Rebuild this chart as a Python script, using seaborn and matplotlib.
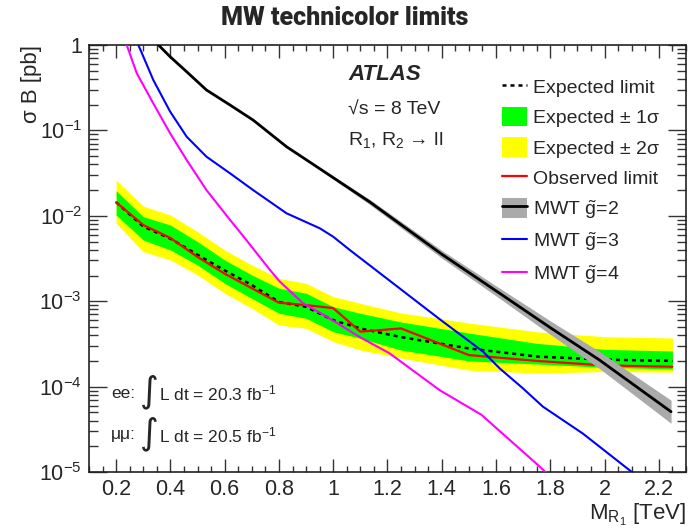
import numpy as np
import pandas as pd
import seaborn as sns
import matplotlib
matplotlib.use('Agg')
import matplotlib.pyplot as plt
from matplotlib.patches import Patch
from matplotlib.lines import Line2D
from matplotlib.ticker import LogLocator, MultipleLocator, FuncFormatter, NullFormatter

# limit curves (mass in TeV, sigma*B in pb)
mass = [0.2, 0.3, 0.4, 0.5, 0.6, 0.7, 0.8, 0.9, 1.0, 1.1, 1.25, 1.5, 1.75, 2.0, 2.25]
observed = [0.0144, 0.0078, 0.0055, 0.0033, 0.0021, 0.00142, 0.00096, 0.00090, 0.00083,
            0.00044, 0.00048, 0.000234, 0.000200, 0.000177, 0.000171]
expected = [0.0144, 0.0075, 0.0054, 0.0035, 0.0023, 0.00155, 0.00098, 0.00086, 0.00060,
            0.00048, 0.00038, 0.00028, 0.000225, 0.000207, 0.000200]
exp_2s_hi = [0.0262, 0.0130, 0.0102, 0.00651, 0.00398, 0.00265, 0.00185, 0.00162, 0.00113,
             0.000945, 0.000728, 0.000556, 0.000439, 0.000384, 0.000371]
exp_1s_hi = [0.0197, 0.00976, 0.0078, 0.00498, 0.00304, 0.00203, 0.00142, 0.00124, 0.000862,
             0.000722, 0.000571, 0.000424, 0.000321, 0.000273, 0.000261]
exp_1s_lo = [0.0102, 0.00521, 0.00398, 0.00265, 0.00162, 0.00108, 0.000722, 0.000631, 0.000439,
             0.000368, 0.000268, 0.000200, 0.000184, 0.000168, 0.000161]
exp_2s_lo = [0.00817, 0.00380, 0.00304, 0.00203, 0.00124, 0.000826, 0.000526, 0.000482, 0.000336,
             0.000268, 0.000216, 0.000156, 0.000144, 0.000150, 0.000148]

# MWT theory curves
mass_g2 = [0.34, 0.356, 0.399, 0.46, 0.533, 0.62, 0.705, 0.828, 0.951, 1.135, 1.4, 1.613,
           1.8, 1.981, 2.245]
mwt_g2 = [1.15, 1.0, 0.729, 0.486, 0.297, 0.198, 0.132, 0.0644, 0.0355, 0.0145, 0.00355,
          0.00124, 0.00049, 0.000205, 5.08e-5]
mass_g2_band = [0.951, 1.135, 1.4, 1.613, 1.8, 1.981, 2.245]
mwt_g2_hi = [0.0367, 0.01554, 0.00394, 0.001424, 0.000589, 0.000258, 6.93e-5]
mwt_g2_lo = [0.0343, 0.01353, 0.00320, 0.00108, 0.000408, 0.000163, 3.72e-5]

mass_g3 = [0.27, 0.282, 0.337, 0.399, 0.46, 0.533, 0.62, 0.705, 0.828, 0.951, 1.0, 1.061,
           1.392, 1.552, 1.613, 1.699, 1.773, 1.92, 2.092, 2.15]
mwt_g3 = [1.26, 1.0, 0.389, 0.166, 0.0843, 0.0492, 0.0314, 0.020, 0.0107, 0.00713, 0.00569,
          0.00398, 0.000617, 0.000257, 0.000164, 9.55e-5, 5.82e-5, 2.82e-5, 1.05e-5, 7.6e-6]

mass_g4 = [0.23, 0.239, 0.276, 0.337, 0.399, 0.46, 0.533, 0.62, 0.669, 0.767, 0.803, 0.889,
           0.975, 1.098, 1.208, 1.392, 1.546, 1.638, 1.748, 1.8]
mwt_g4 = [1.2, 1.0, 0.467, 0.207, 0.0925, 0.045, 0.020, 0.00893, 0.00575, 0.00232, 0.0017,
          0.000944, 0.000661, 0.00038, 0.000245, 9.1e-5, 4.68e-5, 2.57e-5, 1.26e-5, 8.9e-6]

sns.set_theme(style='ticks')
plt.rcParams['font.family'] = ['Liberation Sans', 'DejaVu Sans']
plt.rcParams['mathtext.fontset'] = 'custom'
plt.rcParams['mathtext.rm'] = 'Liberation Sans'
plt.rcParams['mathtext.it'] = 'Liberation Sans:italic'
plt.rcParams['mathtext.bf'] = 'Liberation Sans:bold'

fig = plt.figure(figsize=(6.92, 5.30), dpi=100)
ax = fig.add_axes([0.1286, 0.1094, 0.8627, 0.8057])

lim = pd.DataFrame({'mass': mass, 'obs': observed, 'exp': expected})

# bands
ax.fill_between(mass, exp_2s_lo, exp_2s_hi, color='#ffff00', lw=0, zorder=1)
ax.fill_between(mass, exp_1s_lo, exp_1s_hi, color='#00ff00', lw=0, zorder=2)
sns.lineplot(data=lim, x='mass', y='exp', color='black', lw=1.8,
             linestyle=(0, (1.6, 1.6)), ax=ax, zorder=3)
sns.lineplot(data=lim, x='mass', y='obs', color='#ff0000', lw=1.6, ax=ax, zorder=4)

ax.fill_between(mass_g2_band, mwt_g2_lo, mwt_g2_hi, color='#aaaaaa', lw=0, zorder=5)
sns.lineplot(x=mass_g2, y=mwt_g2, color='black', lw=2.0, ax=ax, zorder=6)
sns.lineplot(x=mass_g3, y=mwt_g3, color='#0000ff', lw=1.5, ax=ax, zorder=6)
sns.lineplot(x=mass_g4, y=mwt_g4, color='#ff00ff', lw=1.5, ax=ax, zorder=6)

ax.set_yscale('log')
ax.set_xlim(0.1, 2.3)
ax.set_ylim(1e-5, 1)

# ticks
ax.xaxis.set_major_locator(MultipleLocator(0.2))
ax.xaxis.set_minor_locator(MultipleLocator(0.05))
ax.xaxis.set_major_formatter(FuncFormatter(lambda v, p: '%g' % round(v, 2)))
ax.yaxis.set_major_locator(LogLocator(base=10, numticks=10))
ax.yaxis.set_minor_locator(LogLocator(base=10, subs=np.arange(2, 10), numticks=20))
ax.yaxis.set_minor_formatter(NullFormatter())


def ylab(v, p):
    e = int(round(np.log10(v)))
    return '1' if e == 0 else r'$10^{%d}$' % e


ax.yaxis.set_major_formatter(FuncFormatter(ylab))
ax.tick_params(which='both', direction='in', top=True, right=True, width=1.0,
               color='#333333', labelsize=15.5, pad=5)
ax.tick_params(axis='x', which='major', length=9.5)
ax.tick_params(axis='x', which='minor', length=4.5)
ax.tick_params(axis='y', which='major', length=13)
ax.tick_params(axis='y', which='minor', length=6.5)
for s in ax.spines.values():
    s.set_linewidth(1.2)
    s.set_color('#222222')

ax.set_xlabel(r'M$_{\mathrm{R}_1}$ [TeV]', fontsize=16, loc='right')
ax.xaxis.set_label_coords(1.0, -0.071)
ax.xaxis.label.set_va('top')
ax.set_ylabel('σ B [pb]', fontsize=16, loc='top')
ax.yaxis.set_label_coords(-0.079, 1.0)

# legend
handles = [
    Line2D([], [], color='black', lw=1.8, linestyle=(0, (1.6, 1.6))),
    Patch(facecolor='#00ff00', edgecolor='none'),
    Patch(facecolor='#ffff00', edgecolor='none'),
    Line2D([], [], color='#ff0000', lw=1.6),
    (Patch(facecolor='#aaaaaa', edgecolor='none'), Line2D([], [], color='black', lw=2.0)),
    Line2D([], [], color='#0000ff', lw=1.5),
    Line2D([], [], color='#ff00ff', lw=1.5),
]
labels = ['Expected limit', 'Expected ± 1σ', 'Expected ± 2σ', 'Observed limit',
          r'MWT $\tilde{\mathrm{g}}$=2', r'MWT $\tilde{\mathrm{g}}$=3', r'MWT $\tilde{\mathrm{g}}$=4']
ax.legend(handles, labels, loc='upper left', bbox_to_anchor=(0.692, 0.926), frameon=False,
          fontsize=14, handlelength=1.28, handleheight=1.15, handletextpad=0.32,
          labelspacing=0.52, borderaxespad=0, borderpad=0)

# annotations
tf = fig.transFigure
ax.text(348 / 692, 1 - 75 / 530, 'ATLAS', transform=tf, fontsize=16,
        fontweight='bold', style='italic', va='center')
ax.text(348 / 692, 1 - 110 / 530, '√s = 8 TeV', transform=tf, fontsize=14, va='center')
ax.text(348 / 692, 1 - 140 / 530, 'R$_1$, R$_2$ → ll', transform=tf, fontsize=14, va='center')

for yy, pre, lumi in [(393, 'ee:', '20.3'), (435, 'μμ:', '20.5')]:
    ax.text(111 / 692, 1 - yy / 530, pre, transform=tf, fontsize=12.5, va='center')
    ax.text(140 / 692, 1 - (yy - 1) / 530, '∫', transform=tf, fontsize=26, va='center',
            family=['DejaVu Sans'])
    ax.text(159 / 692, 1 - yy / 530, 'L dt = %s fb$^{-1}$' % lumi, transform=tf,
            fontsize=12.5, va='center')

fig.text(345 / 692, 1 - 18 / 530, 'MW technicolor limits', ha='center', va='center',
         fontsize=18, fontweight='heavy', family=['Roboto', 'DejaVu Sans'])

fig.savefig('out.png', dpi=100)
